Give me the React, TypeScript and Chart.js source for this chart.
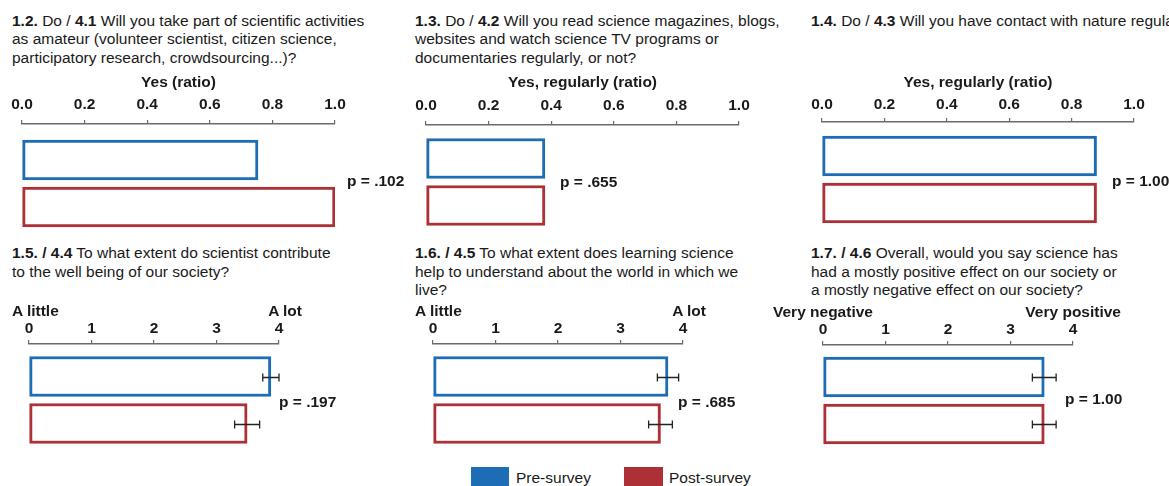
import React, { useEffect, useRef } from "react";
import { Chart, registerables } from "chart.js";

Chart.register(...registerables);

// ---------- data ----------
const GROUPS = ["Pre-survey", "Post-survey"];
const BLUE = "#1c6db5";
const RED = "#ae3037";

const Q12_VALUES = [0.754, 1.0];
const Q13_VALUES = [0.38, 0.38];
const Q14_VALUES = [0.88, 0.88];
const Q15_VALUES = [3.87, 3.49];
const Q15_ERRORS = [0.13, 0.2];
const Q16_VALUES = [3.76, 3.64];
const Q16_ERRORS = [0.17, 0.19];
const Q17_VALUES = [3.54, 3.54];
const Q17_ERRORS = [0.19, 0.19];

const RATIO_TICKS = [0, 0.2, 0.4, 0.6, 0.8, 1.0];
const RATIO_TICK_LABELS = ["0.0", "0.2", "0.4", "0.6", "0.8", "1.0"];
const SCALE_TICKS = [0, 1, 2, 3, 4];
const SCALE_TICK_LABELS = ["0", "1", "2", "3", "4"];

const P_LABELS = ["p = .102", "p = .655", "p = 1.00", "p = .197", "p = .685", "p = 1.00"];

const FONT = "Arial, 'Liberation Sans', Helvetica, sans-serif";
const FS = 15.5;
const STEP = 47; // px between the two bars' centres
const CHART_H = 110;
const PADX = 24;
const PADT = 10;
const PADB = 4;

const errorBarPlugin = {
  id: "errorBars",
  afterDatasetsDraw(chart: any, _args: any, opts: any) {
    const errs: number[] | undefined = opts && opts.errors;
    if (!errs) return;
    const meta = chart.getDatasetMeta(0);
    const xs = chart.scales.x;
    const ctx = chart.ctx;
    ctx.save();
    ctx.strokeStyle = "#222";
    ctx.lineWidth = 1.3;
    meta.data.forEach((bar: any, i: number) => {
      const v = chart.data.datasets[0].data[i].x;
      const x1 = xs.getPixelForValue(v - errs[i]);
      const x2 = xs.getPixelForValue(v + errs[i]);
      const y = Math.round(bar.y) + 0.5;
      ctx.beginPath();
      ctx.moveTo(x1, y);
      ctx.lineTo(x2, y);
      ctx.moveTo(x1, y - 4);
      ctx.lineTo(x1, y + 4);
      ctx.moveTo(x2, y - 4);
      ctx.lineTo(x2, y + 4);
      ctx.stroke();
    });
    ctx.restore();
  },
};

type PanelProps = {
  origin: number;
  len: number;
  axisY: number;
  gap: number;
  axisH: number;
  max: number;
  values: number[];
  errors?: number[];
  tickValues: number[];
  tickLabels: string[];
  tickPad: number;
  title?: string;
  titlePad?: number;
};

function BarPanel(p: PanelProps) {
  const ref = useRef<HTMLCanvasElement>(null);
  const w = p.len + 2 * PADX;
  const h = PADT + p.axisH + CHART_H + PADB;
  useEffect(() => {
    const chart = new Chart(ref.current as HTMLCanvasElement, {
      type: "bar",
      data: {
        labels: GROUPS,
        datasets: [
          {
            label: "survey",
            data: p.values.map((v, i) => ({ x: v, y: i })) as any,
            backgroundColor: "#ffffff",
            borderColor: [BLUE, RED],
            borderWidth: 3,
            borderSkipped: false,
            barThickness: 40,
          } as any,
        ],
      },
      options: {
        indexAxis: "y",
        responsive: false,
        animation: false,
        devicePixelRatio: 1,
        layout: { padding: { left: PADX, right: PADX, top: PADT, bottom: PADB } },
        plugins: {
          legend: { display: false },
          tooltip: { enabled: false },
          errorBars: { errors: p.errors },
        } as any,
        scales: {
          x: {
            type: "linear",
            position: "top",
            min: 0,
            max: p.max,
            afterFit: (s: any) => {
              s.height = p.axisH;
            },
            afterBuildTicks: (s: any) => {
              s.ticks = p.tickValues.map((v) => ({ value: v }));
            },
            ticks: {
              callback: (_v: any, i: number) => p.tickLabels[i],
              font: { family: FONT, size: FS, weight: "bold" },
              color: "#1a1a1a",
              padding: p.tickPad,
              maxRotation: 0,
              autoSkip: false,
            },
            grid: {
              drawOnChartArea: false,
              drawTicks: true,
              tickLength: 4,
              color: "#6b6b6b",
              lineWidth: 1.2,
            },
            border: { display: true, color: "#6b6b6b", width: 1.5 },
            title: p.title
              ? {
                  display: true,
                  text: p.title,
                  font: { family: FONT, size: FS, weight: "bold" },
                  color: "#1a1a1a",
                  padding: { top: p.titlePad ?? 1.5, bottom: 0 },
                }
              : { display: false },
          } as any,
          y: {
            type: "linear",
            display: false,
            offset: false,
            reverse: true,
            min: -p.gap / STEP,
            max: (CHART_H - p.gap) / STEP,
          } as any,
        },
      },
      plugins: [errorBarPlugin],
    });
    return () => chart.destroy();
  }, []);
  return (
    <canvas
      ref={ref}
      width={w}
      height={h}
      style={{
        position: "absolute",
        left: p.origin - PADX,
        top: p.axisY - p.axisH - PADT,
        width: w,
        height: h,
      }}
    />
  );
}

const txt = (left: number, top: number, extra: any = {}) => ({
  position: "absolute" as const,
  left,
  top,
  fontSize: FS,
  lineHeight: "18.7px",
  color: "#1a1a1a",
  whiteSpace: "nowrap" as const,
  ...extra,
});

function Label({ x, cy, text, right }: { x: number; cy: number; text: string; right?: boolean }) {
  const style: any = {
    position: "absolute",
    top: cy - 9,
    fontSize: FS,
    lineHeight: "18px",
    fontWeight: "bold",
    color: "#1a1a1a",
    whiteSpace: "nowrap",
  };
  if (right) style.right = 1169 - x;
  else style.left = x;
  return <div style={style}>{text}</div>;
}

export default function App() {
  const TOP_AXIS_H = 52;
  const BOT_AXIS_H = 34;
  return (
    <div
      style={{
        position: "absolute",
        left: 0,
        top: 0,
        width: 1169,
        height: 486,
        overflow: "hidden",
        background: "#ffffff",
        fontFamily: FONT,
      }}
    >
      {/* titles */}
      <div style={txt(12, 11.5)}>
        <b>1.2.</b> Do / <b>4.1</b> Will you take part of scientific activities
        <br />
        as amateur (volunteer scientist, citizen science,
        <br />
        participatory research, crowdsourcing...)?
      </div>
      <div style={txt(415, 11.5)}>
        <b>1.3.</b> Do / <b>4.2</b> Will you read science magazines, blogs,
        <br />
        websites and watch science TV programs or
        <br />
        documentaries regularly, or not?
      </div>
      <div style={txt(811, 11.5)}>
        <b>1.4.</b> Do / <b>4.3</b> Will you have contact with nature regularly?
      </div>
      <div style={txt(12, 243.8)}>
        <b>1.5. / 4.4</b> To what extent do scientist contribute
        <br />
        to the well being of our society?
      </div>
      <div style={txt(415, 243.8)}>
        <b>1.6. / 4.5</b> To what extent does learning science
        <br />
        help to understand about the world in which we
        <br />
        live?
      </div>
      <div style={txt(811, 243.8)}>
        <b>1.7. / 4.6</b> Overall, would you say science has
        <br />
        had a mostly positive effect on our society or
        <br />
        a mostly negative effect on our society?
      </div>

      {/* charts */}
      <BarPanel origin={22} len={313} axisY={124} gap={36} axisH={TOP_AXIS_H} max={1} values={Q12_VALUES}
        tickValues={RATIO_TICKS} tickLabels={RATIO_TICK_LABELS} tickPad={5.7} title="Yes (ratio)" titlePad={1.7} />
      <BarPanel origin={426} len={313} axisY={125} gap={33.5} axisH={TOP_AXIS_H} max={1} values={Q13_VALUES}
        tickValues={RATIO_TICKS} tickLabels={RATIO_TICK_LABELS} tickPad={5.7} title="Yes, regularly (ratio)" titlePad={0.7} />
      <BarPanel origin={822} len={312} axisY={122} gap={34} axisH={TOP_AXIS_H} max={1} values={Q14_VALUES}
        tickValues={RATIO_TICKS} tickLabels={RATIO_TICK_LABELS} tickPad={4.2} title="Yes, regularly (ratio)" titlePad={3.7} />
      <BarPanel origin={29} len={250} axisY={344} gap={32.5} axisH={BOT_AXIS_H} max={4} values={Q15_VALUES}
        errors={Q15_ERRORS} tickValues={SCALE_TICKS} tickLabels={SCALE_TICK_LABELS} tickPad={2} />
      <BarPanel origin={433} len={250} axisY={344} gap={32.5} axisH={BOT_AXIS_H} max={4} values={Q16_VALUES}
        errors={Q16_ERRORS} tickValues={SCALE_TICKS} tickLabels={SCALE_TICK_LABELS} tickPad={2} />
      <BarPanel origin={823} len={250} axisY={345} gap={32} axisH={BOT_AXIS_H} max={4} values={Q17_VALUES}
        errors={Q17_ERRORS} tickValues={SCALE_TICKS} tickLabels={SCALE_TICK_LABELS} tickPad={2} />

      {/* scale end labels */}
      <Label x={12} cy={311} text="A little" />
      <Label x={302} cy={311} text="A lot" right />
      <Label x={415} cy={311} text="A little" />
      <Label x={706} cy={311} text="A lot" right />
      <Label x={773} cy={312} text="Very negative" />
      <Label x={1121} cy={312} text="Very positive" right />

      {/* p-values */}
      <Label x={347} cy={181} text={P_LABELS[0]} />
      <Label x={560} cy={182} text={P_LABELS[1]} />
      <Label x={1112} cy={181} text={P_LABELS[2]} />
      <Label x={279} cy={401.5} text={P_LABELS[3]} />
      <Label x={678} cy={401.5} text={P_LABELS[4]} />
      <Label x={1065} cy={399} text={P_LABELS[5]} />

      {/* legend */}
      <div style={{ position: "absolute", left: 471, top: 467, width: 38, height: 20, background: BLUE }} />
      <div style={txt(516, 469)}>{GROUPS[0]}</div>
      <div style={{ position: "absolute", left: 624, top: 467, width: 39, height: 20, background: RED }} />
      <div style={txt(669, 469)}>{GROUPS[1]}</div>
    </div>
  );
}
